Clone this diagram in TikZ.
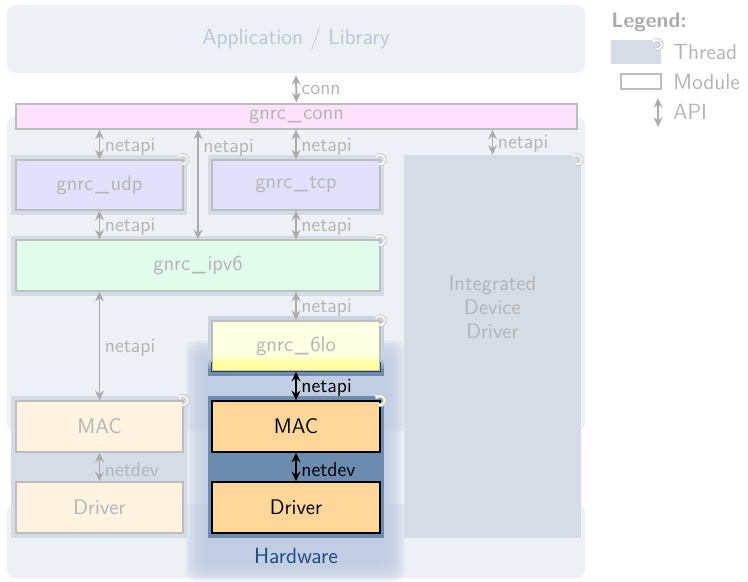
\documentclass[tikz,border=0pt]{standalone}
\usetikzlibrary{arrows.meta}

\definecolor{pane}{HTML}{EDF0F5}
\definecolor{threadbg}{HTML}{D5DCE6}
\definecolor{hiframe}{HTML}{6B8BAF}
\definecolor{hifade}{HTML}{C9D3E3}
\definecolor{glow}{HTML}{BFCDE2}
\definecolor{faded}{HTML}{B4B4B4}
\definecolor{legendgray}{HTML}{ABABAB}
\definecolor{apptext}{HTML}{BAC6D8}
\definecolor{modline}{HTML}{BDBDBD}
\definecolor{connfill}{HTML}{FDE1FD}
\definecolor{transfill}{HTML}{E1E1FB}
\definecolor{netfill}{HTML}{E1FBEC}
\definecolor{lolight}{HTML}{FFFFE3}
\definecolor{lodark}{HTML}{FFFF9C}
\definecolor{macfade}{HTML}{FEF2E1}
\definecolor{macfill}{HTML}{FFD699}
\definecolor{hwtext}{HTML}{1F4A87}
\definecolor{apigray}{HTML}{ABABAB}
\definecolor{iconc}{HTML}{F4F4F4}
\definecolor{iconedge}{HTML}{C6C6C6}

\pgfdeclareverticalshading{lofade}{100bp}{color(0bp)=(hiframe); color(30bp)=(hiframe); color(40bp)=(hifade); color(100bp)=(hifade)}
\pgfdeclareverticalshading{loyellow}{100bp}{color(0bp)=(lodark); color(31bp)=(lodark); color(43bp)=(lolight); color(100bp)=(lolight)}

\newcommand{\threadicon}[1]{%
  \draw[icon, draw=iconedge, line width=2.2pt] ([shift={(-4,5)}]#1.north east) ++(110:4.5)
    arc[start angle=110, end angle=-160, radius=4.5];
  \draw[icon] ([shift={(-4,5)}]#1.north east) ++(110:4.5)
    arc[start angle=110, end angle=-160, radius=4.5];}
\newcommand{\us}{\kern1pt\_\kern1pt}

\tikzset{
  box/.style={inner sep=0pt, font=\sffamily\fontsize{12}{14}\selectfont, text=faded},
  thread/.style={box, fill=threadbg},
  module/.style={box, draw=modline, line width=0.8pt},
  hot/.style={box, draw=black, line width=0.8pt, fill=macfill, text=black},
  api/.style={{Stealth[length=5.5pt,width=5pt,inset=1.8pt]}-{Stealth[length=5.5pt,width=5pt,inset=1.8pt]},
    line width=1.1pt, draw=apigray},
  lbl/.style={midway, right, yshift=-1.2pt, inner sep=2.5pt, font=\sffamily\fontsize{11.5}{13}\selectfont, text=faded},
  icon/.style={draw=iconc, line width=1.2pt, -{Stealth[length=2.5pt,width=3.5pt]}},
}

\begin{document}
\begin{tikzpicture}[x=0.02cm, y=-0.02cm]
    \useasboundingbox (0,0) rectangle (748,582);

    \node[box, fill=pane, rounded corners=0.16cm, minimum width=11.56cm, minimum height=1.36cm,
        text=apptext, font=\sffamily\fontsize{12.5}{14}\selectfont] (app) at (296,39) {Application / Library};
    \fill[pane, rounded corners=0.16cm] (7,117) rectangle (585,431);
    \fill[pane, rounded corners=0.16cm] (7,504) rectangle (585,578);

    % highlight around the hardware part
    \foreach \i in {0,...,13}
        \fill[glow, opacity=0.15, rounded corners=0.2cm]
            (185+1.5*\i,340+1.5*\i) rectangle (405-1.5*\i,582-1.5*\i);
    \node[box, text=hwtext, font=\sffamily\fontsize{12.5}{14}\selectfont] (hw) at (296,556) {Hardware};

    \node[module, fill=connfill, minimum width=11.22cm, minimum height=0.5cm] (conn) at (296.5,116.5) {gnrc\us conn};

    \node[thread, minimum width=3.52cm, minimum height=1.2cm] (udpt) at (99,185) {};
    \node[thread, minimum width=3.52cm, minimum height=1.2cm] (tcpt) at (296,185) {};
    \node[thread, minimum width=7.46cm, minimum height=1.2cm] (ipv6t) at (197.5,266) {};
    \node[box, shade, shading=lofade, minimum width=3.52cm, minimum height=1.2cm] (lot) at (296,346) {};
    \node[thread, minimum width=3.52cm, minimum height=2.84cm] (maclt) at (99,467) {};
    \node[box, fill=hiframe, minimum width=3.52cm, minimum height=2.84cm] (macrt) at (296,467) {};
    \node[thread, minimum width=3.54cm, minimum height=7.66cm] (idd) at (492.5,346.5) {};
    \node[box, align=center, font=\sffamily\fontsize{12}{13.6}\selectfont] (iddtxt) at (492.5,307) {Integrated\\Device\\Driver};

    \node[module, fill=transfill, minimum width=3.34cm, minimum height=1cm] (udp) at (99.5,185) {gnrc\us udp};
    \node[module, fill=transfill, minimum width=3.36cm, minimum height=1cm] (tcp) at (296,185) {gnrc\us tcp};
    \node[module, fill=netfill, minimum width=7.28cm, minimum height=1.02cm] (ipv6) at (198,265.5) {gnrc\us ipv6};
    \node[module, shade, shading=loyellow, minimum width=3.36cm, minimum height=1cm] (lo) at (296,346) {gnrc\us 6lo};
    \draw[black!75, line width=0.8pt] ([shift={(0,-10)}]lo.south west) -- (lo.south west)
        -- (lo.south east) -- ([shift={(0,-10)}]lo.south east);
    \node[module, fill=macfade, minimum width=3.34cm, minimum height=1.02cm] (macl) at (99.5,426.5) {MAC};
    \node[module, fill=macfade, minimum width=3.34cm, minimum height=1.02cm] (drvl) at (99.5,507.5) {Driver};
    \node[hot, minimum width=3.36cm, minimum height=1.02cm] (macr) at (296,426.5) {MAC};
    \node[hot, minimum width=3.36cm, minimum height=1.02cm] (drvr) at (296,507.5) {Driver};

    \threadicon{udpt}
    \threadicon{tcpt}
    \threadicon{ipv6t}
    \threadicon{lot}
    \threadicon{maclt}
    \threadicon{macrt}
    \threadicon{idd}

    \draw[api, shorten <=1pt, shorten >=0.5pt] (app.south) -- (conn.north) node[lbl] (l-conn) {conn};
    \draw[api] (conn.south -| udp.north) -- (udp.north) node[lbl] (l-udp) {netapi};
    \draw[api] (conn.south -| ipv6.north) -- (ipv6.north) node[lbl, pos=0.15] (l-raw) {netapi};
    \draw[api] (conn.south -| tcp.north) -- (tcp.north) node[lbl] (l-tcp) {netapi};
    \draw[api] (conn.south -| idd.north) -- (idd.north) node[lbl] (l-idd) {netapi};
    \draw[api] (udp.south) -- (udp.south |- ipv6.north) node[lbl] (l-udp-ip) {netapi};
    \draw[api] (tcp.south) -- (tcp.south |- ipv6.north) node[lbl] (l-tcp-ip) {netapi};
    \draw[api] (ipv6.south -| macl.north) -- (macl.north) node[lbl] (l-ip-mac) {netapi};
    \draw[api] (ipv6.south -| lo.north) -- (lo.north) node[lbl] (l-ip-lo) {netapi};
    \draw[api, draw=black] (lo.south) -- (macr.north) node[lbl, text=black] (l-lo-mac) {netapi};
    \draw[api] (macl.south) -- (drvl.north) node[lbl] (l-dev-l) {netdev};
    \draw[api, draw=black] (macr.south) -- (drvr.north) node[lbl, text=black] (l-dev-r) {netdev};

    % legend
    \node[anchor=west, inner sep=0pt, text=legendgray, font=\sffamily\bfseries\fontsize{12}{14}\selectfont] (leg) at (611,22) {Legend:};
    \node[thread, minimum width=1cm, minimum height=0.48cm] (leg-t) at (636,52) {};
    \threadicon{leg-t}
    \node[module, fill=white, minimum width=0.8cm, minimum height=0.3cm] (leg-m) at (641,81.5) {};
    \coordinate (leg-a1) at (658,98);
    \coordinate (leg-a2) at (658,127);
    \draw[api] (leg-a1) -- (leg-a2);
    \node[anchor=west, inner sep=0pt, text=faded, font=\sffamily\fontsize{12.5}{14}\selectfont] (leg-tt) at (673,52) {Thread};
    \node[anchor=west, inner sep=0pt, text=faded, font=\sffamily\fontsize{12.5}{14}\selectfont] (leg-mt) at (673,82) {Module};
    \node[anchor=west, inner sep=0pt, text=faded, font=\sffamily\fontsize{12.5}{14}\selectfont] (leg-at) at (673,112) {API};
\end{tikzpicture}
\end{document}
